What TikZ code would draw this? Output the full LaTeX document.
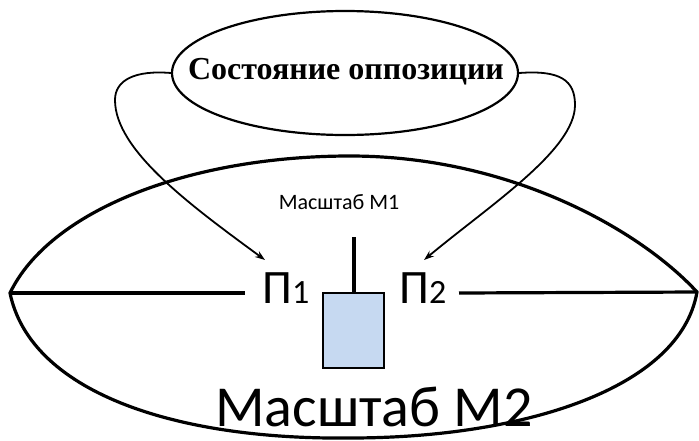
\documentclass[tikz,border=0pt]{standalone}
\usepackage{fontspec}
\setmainfont{Carlito}
\newfontfamily\serifb{Liberation Serif}
\usetikzlibrary{arrows.meta,shapes.geometric}
\definecolor{boxblue}{RGB}{198,217,241}
\begin{document}
\begin{tikzpicture}[x=1pt,y=-1pt,
  thick3/.style={line width=3.2pt},
  arr/.style={line width=1.8pt,-{Stealth[length=10pt,width=7pt]}},
  txt/.style={inner sep=0pt,anchor=base}]
\useasboundingbox (0,0) rectangle (699,440);
% top ellipse
\node[ellipse,draw,line width=2.2pt,minimum width=346pt,minimum height=124pt,inner sep=0pt] (st) at (345,73) {};
\node[font=\serifb\bfseries\fontsize{32}{32}\selectfont] (stt) at (346,72) {Состояние оппозиции};
% big lens shape
\coordinate (L) at (10,293);
\coordinate (R) at (697,292);
\draw[thick3,line join=miter] (L) .. controls (50,210) and (190,156) .. (350,156)
  .. controls (510,156) and (640,230) .. (R)
  .. controls (680,390) and (520,438) .. (350,438)
  .. controls (170,440) and (30,390) .. cycle;
% labels
\node[txt,font=\fontsize{22}{22}\selectfont] (m1) at (339,209) {Масштаб М1};
\node[txt,font=\fontsize{58}{58}\selectfont] (m2) at (374,426) {Масштаб М2};
\node[txt,anchor=base west] (p1) at (262,303) {{\fontsize{48}{48}\selectfont П}{\fontsize{34}{34}\selectfont 1}};
\node[txt,anchor=base west] (p2) at (399,303) {{\fontsize{48}{48}\selectfont П}{\fontsize{34}{34}\selectfont 2}};
% horizontal lines
\coordinate (h1) at (245,293);
\coordinate (h2) at (459,293);
\draw[thick3] (L) -- (h1);
\draw[thick3] (h2) -- (R);
% box and stick
\node[draw,fill=boxblue,line width=1.5pt,minimum width=61pt,minimum height=75pt,inner sep=0pt] (box) at (353.5,330.5) {};
\coordinate (stk) at (353.5,237);
\draw[line width=4pt] (box.north) -- (stk);
% arrows
\coordinate (a1) at (265,260);
\coordinate (a2) at (424,260);
\draw[arr] (st.west) .. controls (135,70) and (115,80) .. (115,100)
  .. controls (115,150) and (190,205) .. (a1);
\draw[arr] (st.east) .. controls (560,70) and (575,80) .. (575,105)
  .. controls (575,150) and (490,205) .. (a2);
\end{tikzpicture}
\end{document}
